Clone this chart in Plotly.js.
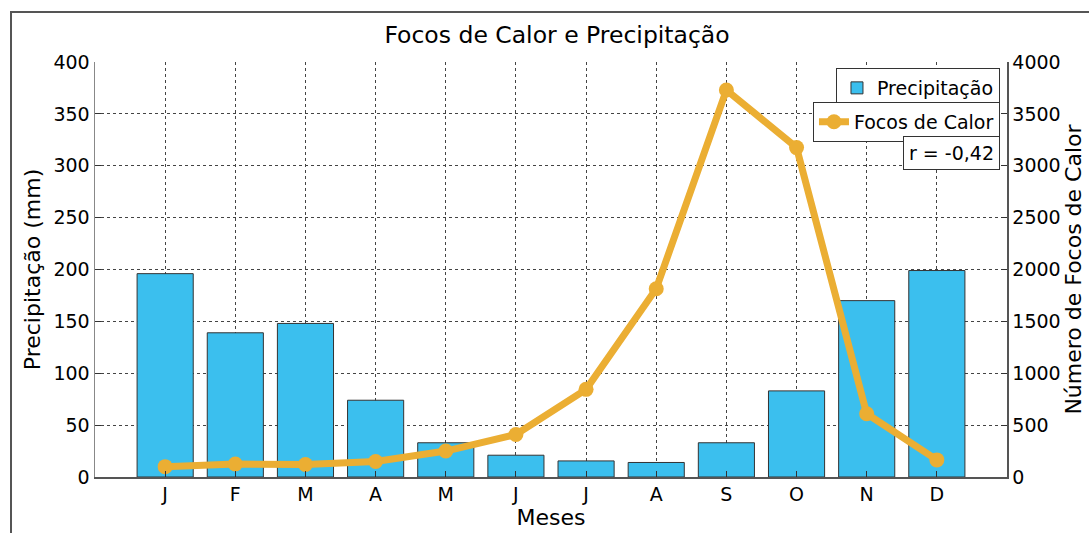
<!DOCTYPE html>
<html>
<head>
<meta charset="utf-8">
<script src="https://cdn.plot.ly/plotly-3.0.1.min.js"></script>
<style>html,body{margin:0;padding:0;background:#fff;}#chart{width:1089px;height:533px;}</style>
</head>
<body>
<div id="chart"></div>
<script>
const months = ["J","F","M","A","M","J","J","A","S","O","N","D"];
const precipitacao = [196, 139, 148, 74, 33, 21, 15.5, 14, 33, 83, 170, 199];
const focos = [100, 125, 120, 150, 250, 410, 845, 1815, 3730, 3175, 610, 165];
const yLeftTicks = [0, 50, 100, 150, 200, 250, 300, 350, 400];
const yRightTicks = [0, 500, 1000, 1500, 2000, 2500, 3000, 3500, 4000];
const rText = "r = -0,42";

const xs = months.map((_, i) => i + 1);
const FONT = "DejaVu Sans, Liberation Sans, Arial, sans-serif";

const traces = [
  {
    type: "bar", x: xs, y: precipitacao, name: "Precipitação", width: 0.8,
    marker: {color: "#3BBFEE", line: {color: "#333333", width: 1}},
    legend: "legend", yaxis: "y"
  },
  {
    type: "scatter", mode: "lines+markers", x: xs, y: focos, name: "Focos de Calor",
    line: {color: "#EBAE33", width: 7}, marker: {color: "#EBAE33", size: 15},
    legend: "legend2", yaxis: "y2"
  }
];

const layout = {
  width: 1089, height: 533,
  margin: {l: 95, r: 82, t: 62, b: 56},
  paper_bgcolor: "#ffffff", plot_bgcolor: "#ffffff",
  font: {family: FONT, color: "#000", size: 19},
  title: {text: "Focos de Calor e Precipitação", font: {size: 23.5, family: FONT, color: "#000"},
          xref: "container", x: 0.5115, xanchor: "center", yref: "container", y: 0.934, yanchor: "middle"},
  bargap: 0.2,
  xaxis: {
    range: [0, 13], tickvals: xs, ticktext: months, tickfont: {size: 19},
    showgrid: true, gridcolor: "#444", griddash: "dot", gridwidth: 1,
    ticks: "inside", ticklen: 6, tickcolor: "#333",
    showline: true, linecolor: "#555", linewidth: 1.5, zeroline: false,
    title: {text: "Meses", font: {size: 22}, standoff: 2}
  },
  yaxis: {
    range: [0, 400], tickvals: yLeftTicks, tickfont: {size: 19},
    showgrid: true, gridcolor: "#444", griddash: "dot", gridwidth: 1,
    ticks: "inside", ticklen: 6, tickcolor: "#333",
    showline: true, linecolor: "#888", linewidth: 1.5, zeroline: false,
    title: {text: "Precipitação (mm)", font: {size: 22}, standoff: 6}
  },
  yaxis2: {
    range: [0, 4000], tickvals: yRightTicks, tickfont: {size: 19},
    overlaying: "y", side: "right", showgrid: false,
    ticks: "inside", ticklen: 6, tickcolor: "#333",
    showline: true, linecolor: "#555", linewidth: 1.5, zeroline: false,
    title: {text: "Número de Focos de Calor", font: {size: 22}, standoff: 4}
  },
  legend: {
    x: 0.9923, xanchor: "right", y: 0.9855, yanchor: "top",
    bordercolor: "#333", borderwidth: 1, bgcolor: "#fff",
    font: {size: 19}, itemwidth: 30, tracegroupgap: 0
  },
  legend2: {
    x: 0.9923, xanchor: "right", y: 0.904, yanchor: "top",
    bordercolor: "#333", borderwidth: 1, bgcolor: "#fff",
    font: {size: 19}, itemwidth: 30, tracegroupgap: 0
  },
  annotations: [{
    text: rText, xref: "paper", yref: "paper", x: 0.9923, xanchor: "right", y: 0.822, yanchor: "top",
    showarrow: false, font: {size: 19}, bordercolor: "#333", borderwidth: 1, borderpad: 5, bgcolor: "#fff"
  }],
  shapes: [{
    type: "rect", xref: "paper", yref: "paper", x0: -0.0921, x1: 1.0965, y0: -0.1518, y1: 1.1205,
    line: {color: "#555", width: 2}, layer: "below"
  }],
  showlegend: true
};

Plotly.newPlot("chart", traces, layout, {displayModeBar: false, staticPlot: true});
</script>
</body>
</html>
